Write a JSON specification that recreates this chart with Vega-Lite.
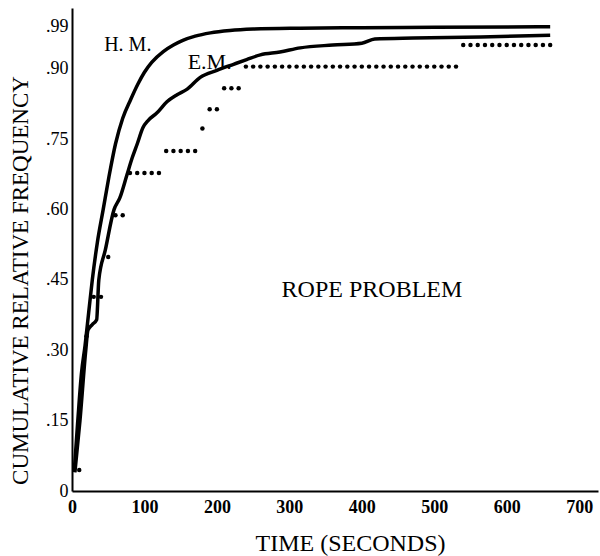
{
  "$schema": "https://vega.github.io/schema/vega-lite/v6.json",
  "width": 526,
  "height": 483,
  "autosize": "none",
  "padding": {"left": 72, "top": 8, "right": 2, "bottom": 65},
  "background": "white",
  "config": {
    "view": {"stroke": null},
    "font": "Liberation Serif",
    "axis": {"grid": false, "ticks": false, "domainColor": "black", "domainWidth": 2, "labelColor": "black", "titleColor": "black", "labelFont": "Liberation Serif", "titleFont": "Liberation Serif", "labelFontSize": 18, "titleFontWeight": "normal"}
  },
  "datasets": {
    "hm": [
      {"t": 3, "p": 0.04}, {"t": 8, "p": 0.15}, {"t": 13, "p": 0.25}, {"t": 18, "p": 0.31},
      {"t": 23, "p": 0.38}, {"t": 28, "p": 0.45}, {"t": 35, "p": 0.53}, {"t": 43, "p": 0.60},
      {"t": 51, "p": 0.67}, {"t": 60, "p": 0.74}, {"t": 70, "p": 0.795}, {"t": 81, "p": 0.835},
      {"t": 91, "p": 0.868}, {"t": 100, "p": 0.893}, {"t": 110, "p": 0.914}, {"t": 126, "p": 0.937},
      {"t": 140, "p": 0.951}, {"t": 153, "p": 0.961}, {"t": 170, "p": 0.97}, {"t": 191, "p": 0.977},
      {"t": 218, "p": 0.982}, {"t": 250, "p": 0.985}, {"t": 315, "p": 0.987}, {"t": 400, "p": 0.988},
      {"t": 500, "p": 0.989}, {"t": 660, "p": 0.99}
    ],
    "em": [
      {"t": 4, "p": 0.04}, {"t": 11, "p": 0.15}, {"t": 19, "p": 0.30}, {"t": 22, "p": 0.343},
      {"t": 28, "p": 0.355}, {"t": 34, "p": 0.365}, {"t": 37, "p": 0.45}, {"t": 46, "p": 0.514},
      {"t": 58, "p": 0.60}, {"t": 66, "p": 0.625}, {"t": 76, "p": 0.675}, {"t": 83, "p": 0.71},
      {"t": 90, "p": 0.74}, {"t": 98, "p": 0.775}, {"t": 105, "p": 0.79}, {"t": 117, "p": 0.806},
      {"t": 131, "p": 0.83}, {"t": 145, "p": 0.845}, {"t": 159, "p": 0.857}, {"t": 177, "p": 0.882},
      {"t": 200, "p": 0.897}, {"t": 223, "p": 0.91}, {"t": 241, "p": 0.92}, {"t": 260, "p": 0.93},
      {"t": 287, "p": 0.936}, {"t": 315, "p": 0.945}, {"t": 360, "p": 0.951}, {"t": 400, "p": 0.955},
      {"t": 418, "p": 0.964}, {"t": 471, "p": 0.966}, {"t": 564, "p": 0.968}, {"t": 660, "p": 0.972}
    ],
    "obs": [
      {"t": 10, "p": 0.045}, {"t": 20, "p": 0.33},
      {"t": 30, "p": 0.414}, {"t": 40, "p": 0.414},
      {"t": 50, "p": 0.499},
      {"t": 60, "p": 0.588}, {"t": 70, "p": 0.588},
      {"t": 80, "p": 0.678}, {"t": 90, "p": 0.678}, {"t": 100, "p": 0.678}, {"t": 110, "p": 0.678}, {"t": 120, "p": 0.678},
      {"t": 130, "p": 0.725}, {"t": 140, "p": 0.725}, {"t": 150, "p": 0.725}, {"t": 160, "p": 0.725}, {"t": 170, "p": 0.725},
      {"t": 180, "p": 0.773},
      {"t": 190, "p": 0.814}, {"t": 200, "p": 0.814},
      {"t": 210, "p": 0.859}, {"t": 220, "p": 0.859}, {"t": 230, "p": 0.859},
      {"t": 240, "p": 0.905}, {"t": 250, "p": 0.905}, {"t": 260, "p": 0.905}, {"t": 270, "p": 0.905},
      {"t": 280, "p": 0.905}, {"t": 290, "p": 0.905}, {"t": 300, "p": 0.905}, {"t": 310, "p": 0.905},
      {"t": 320, "p": 0.905}, {"t": 330, "p": 0.905}, {"t": 340, "p": 0.905}, {"t": 350, "p": 0.905},
      {"t": 360, "p": 0.905}, {"t": 370, "p": 0.905}, {"t": 380, "p": 0.905}, {"t": 390, "p": 0.905},
      {"t": 400, "p": 0.905}, {"t": 410, "p": 0.905}, {"t": 420, "p": 0.905}, {"t": 430, "p": 0.905},
      {"t": 440, "p": 0.905}, {"t": 450, "p": 0.905}, {"t": 460, "p": 0.905}, {"t": 470, "p": 0.905},
      {"t": 480, "p": 0.905}, {"t": 490, "p": 0.905}, {"t": 500, "p": 0.905}, {"t": 510, "p": 0.905},
      {"t": 520, "p": 0.905}, {"t": 530, "p": 0.905},
      {"t": 540, "p": 0.951}, {"t": 550, "p": 0.951}, {"t": 560, "p": 0.951}, {"t": 570, "p": 0.951},
      {"t": 580, "p": 0.951}, {"t": 590, "p": 0.951}, {"t": 600, "p": 0.951}, {"t": 610, "p": 0.951},
      {"t": 620, "p": 0.951}, {"t": 630, "p": 0.951}, {"t": 640, "p": 0.951}, {"t": 650, "p": 0.951},
      {"t": 660, "p": 0.951}
    ],
    "yticks": [{"p": 0.15}, {"p": 0.3}, {"p": 0.45}, {"p": 0.6}, {"p": 0.75}, {"p": 0.9}, {"p": 0.99}],
    "xticks": [{"t": 100}, {"t": 200}, {"t": 300}, {"t": 400}, {"t": 500}, {"t": 600}, {"t": 700}],
    "labels": [
      {"t": 77, "p": 0.951, "text": "H. M.", "size": 20},
      {"t": 190, "p": 0.915, "text": "E.M.", "size": 22},
      {"t": 414, "p": 0.429, "text": "ROPE PROBLEM", "size": 24}
    ]
  },
  "encoding": {
    "x": {"field": "t", "type": "quantitative", "scale": {"domain": [0, 726], "nice": false, "zero": false},
      "axis": {"values": [0, 100, 200, 300, 400, 500, 600, 700], "labelPadding": 7, "labelFlush": false, "labelFontWeight": "bold",
        "title": "TIME (SECONDS)", "titleFontSize": 24, "titleX": 278, "titleY": 52, "titleBaseline": "middle", "titleAlign": "center"}},
    "y": {"field": "p", "type": "quantitative", "scale": {"domain": [0, 1.03], "nice": false, "zero": false},
      "axis": {"values": [0, 0.15, 0.3, 0.45, 0.6, 0.75, 0.9, 0.99], "labelPadding": 4, "labelFlush": false,
        "labelExpr": "datum.value == 0 ? '0' : replace(format(datum.value, '.2f'), '0.', '.')",
        "title": "CUMULATIVE RELATIVE FREQUENCY", "titleFontSize": 23, "titleX": -52, "titleY": 272, "titleAngle": 270, "titleBaseline": "middle", "titleAlign": "center"}}
  },
  "layer": [
    {"data": {"name": "yticks"}, "mark": {"type": "rule", "color": "black", "strokeWidth": 1.5}, "encoding": {"x": {"datum": 0}, "x2": {"datum": 8}}},
    {"data": {"name": "xticks"}, "mark": {"type": "rule", "color": "black", "strokeWidth": 1.5}, "encoding": {"y": {"datum": 0}, "y2": {"datum": 0.012}}},
    {"data": {"name": "hm"}, "mark": {"type": "line", "color": "black", "strokeWidth": 3.5, "interpolate": "monotone"}},
    {"data": {"name": "em"}, "mark": {"type": "line", "color": "black", "strokeWidth": 3.5, "interpolate": "monotone"}},
    {"data": {"name": "obs"}, "mark": {"type": "circle", "color": "black", "opacity": 1, "size": 20}},
    {"data": {"name": "labels"}, "mark": {"type": "text", "color": "black", "font": "Liberation Serif", "align": "center", "baseline": "middle"},
      "encoding": {"text": {"field": "text"}, "size": {"field": "size", "type": "quantitative", "scale": null}}}
  ]
}
